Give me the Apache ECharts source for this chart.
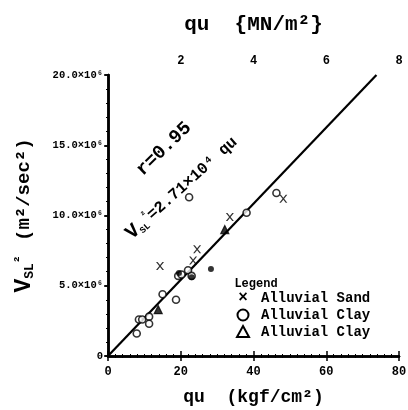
<!DOCTYPE html>
<html><head><meta charset="utf-8">
<script src="https://cdn.jsdelivr.net/npm/echarts@6/dist/echarts.min.js"></script>
<style>html,body{margin:0;padding:0;background:#fff}#c{width:408px;height:410px}</style>
</head><body><div id="c"></div>
<script>
// qu (kgf/cm2), Vsl^2 in 10^6 m2/s2
const sandPts = [[14.3,6.4],[23.4,6.8],[24.5,7.6],[33.5,9.9],[48.2,11.2]];
const clayCirclePts = [[7.9,1.6],[8.5,2.6],[9.4,2.6],[11.3,2.8],[11.3,2.3],[15,4.4],[18.7,4.0],[19.3,5.7],[20.2,5.8],[22,6.1],[23,5.7],[22.3,11.3],[38.1,10.2],[46.3,11.6]];
const clayTrianglePts = [[13.8,3.3],[32.1,9.0]];
const filledPts = [[19.5,5.9],[23,5.6],[28.3,6.2]];
const fitCoef = 0.271; // 2.71x10^5 per kgf/cm2, in 10^6 units
const fitRange = [0, 73.8];
const xTicks = [0,20,40,60,80];
const topTicks = [0,2,4,6,8];
const yTicks = [0,5,10,15,20];

const fitLine = fitRange.map(x => [x, fitCoef*x]);
const FONT = 'Liberation Mono';
const crossPath = 'path://M0,0L2,0L5,3L8,0L10,0L6,4L10,8L8,8L5,5L2,8L0,8L4,4Z';

const chart = echarts.init(document.getElementById('c'));
chart.setOption({
  animation:false,
  backgroundColor:'#fff',
  textStyle:{fontFamily:FONT,fontWeight:'bold',color:'#000'},
  grid:{left:108,right:9,top:75,bottom:54,containLabel:false,outerBoundsMode:'none'},
  xAxis:[{
    type:'value',min:0,max:80,interval:20,position:'bottom',
    name:'qu  (kgf/cm²)',nameLocation:'middle',nameGap:32,
    nameTextStyle:{fontSize:18,fontWeight:'bold',fontFamily:FONT,color:'#000'},
    axisLine:{lineStyle:{color:'#000',width:2.5}},
    axisTick:{inside:true,length:5,lineStyle:{color:'#000',width:1.5}},
    minorTick:{show:true,splitNumber:10,length:2,lineStyle:{color:'#000'}},
    splitLine:{show:false},
    axisLabel:{fontSize:12,fontWeight:'bold',color:'#000',margin:10,fontFamily:FONT}
  },{
    type:'value',min:0,max:8,interval:2,position:'top',
    name:'qu  {MN/m²}',nameLocation:'middle',nameGap:40,
    nameTextStyle:{fontSize:21,fontWeight:'bold',fontFamily:FONT,color:'#000'},
    axisLine:{lineStyle:{color:'#000',width:2.5}},
    axisTick:{inside:true,length:5,lineStyle:{color:'#000',width:1.5}},
    minorTick:{show:true,splitNumber:10,length:2,lineStyle:{color:'#000'}},
    splitLine:{show:false},
    axisLabel:{fontSize:12,fontWeight:'bold',color:'#000',margin:8,fontFamily:FONT,
      formatter:v=>v===0?'':String(v)}
  }],
  yAxis:[{
    type:'value',min:0,max:20,interval:5,position:'left',
    name:'{v|V}{s|SL}{p|²}  {u|(m²/sec²)}',nameLocation:'middle',nameGap:72,
    nameTextStyle:{rich:{
      v:{fontSize:23,fontWeight:'bold',fontFamily:FONT,color:'#000'},
      s:{fontSize:13,fontWeight:'bold',fontFamily:FONT,color:'#000',verticalAlign:'bottom',padding:[10,0,0,0]},
      p:{fontSize:13,fontWeight:'bold',fontFamily:FONT,color:'#000',verticalAlign:'top'},
      u:{fontSize:19,fontWeight:'bold',fontFamily:FONT,color:'#000'}
    }},
    axisLine:{lineStyle:{color:'#000',width:2.5}},
    axisTick:{inside:false,length:3,lineStyle:{color:'#000',width:1.5}},
    minorTick:{show:true,splitNumber:5,length:2,lineStyle:{color:'#000'}},
    splitLine:{show:false},
    axisLabel:{fontSize:10.5,fontWeight:'bold',color:'#000',margin:5,fontFamily:FONT,
      formatter:v=>v===0?'0':v.toFixed(1)+'×10⁶'}
  },{
    type:'value',min:0,max:20,interval:5,position:'right',
    axisLine:{show:true,lineStyle:{color:'#000',width:2.5}},
    axisTick:{show:true,inside:true,length:4,lineStyle:{color:'#000',width:1.5}},
    minorTick:{show:true,splitNumber:5,length:2,lineStyle:{color:'#000'}},
    splitLine:{show:false},
    axisLabel:{show:false}
  }],
  series:[
    {type:'line',data:fitLine,symbol:'none',lineStyle:{color:'#000',width:2.2},z:1},
    {name:'Alluvial Sand',type:'scatter',data:sandPts,symbol:crossPath,symbolSize:8,
      itemStyle:{color:'#000'},z:3},
    {name:'Alluvial Clay',type:'scatter',data:clayCirclePts,symbol:'circle',symbolSize:7,
      itemStyle:{color:'#fff',borderColor:'#000',borderWidth:1.6},z:3},
    {name:'Alluvial Clay ',type:'scatter',data:clayTrianglePts,symbol:'triangle',symbolSize:8,
      itemStyle:{color:'#000',borderColor:'#000',borderWidth:1.2},z:3},
    {type:'scatter',data:filledPts,symbol:'circle',symbolSize:6,
      itemStyle:{color:'#000'},z:3}
  ],
  graphic:[
    {type:'text',x:164,y:149,rotation:Math.PI*44/180,
      style:{text:'r=0.95',font:'bold 19px '+FONT,fill:'#000',align:'center',verticalAlign:'middle'}},
    {type:'text',x:182,y:188,rotation:Math.PI*42/180,
      style:{text:'{v|V}{s|SL}{p|²}{t|=2.71×10⁴ qu}',align:'center',verticalAlign:'middle',
        rich:{
          v:{font:'bold 20px '+FONT,fill:'#000'},
          s:{font:'bold 9px '+FONT,fill:'#000',verticalAlign:'bottom'},
          p:{font:'bold 9px '+FONT,fill:'#000',verticalAlign:'top'},
          t:{font:'bold 16px '+FONT,fill:'#000'}
        }}},
    {type:'text',x:256,y:284,style:{text:'Legend',font:'bold 12px '+FONT,fill:'#000',align:'center',verticalAlign:'middle'}},
    {type:'text',x:261,y:298,style:{text:'Alluvial Sand',font:'bold 14px '+FONT,fill:'#000',verticalAlign:'middle'}},
    {type:'text',x:261,y:315,style:{text:'Alluvial Clay',font:'bold 14px '+FONT,fill:'#000',verticalAlign:'middle'}},
    {type:'text',x:261,y:332,style:{text:'Alluvial Clay',font:'bold 14px '+FONT,fill:'#000',verticalAlign:'middle'}},
    {type:'text',x:243,y:298,style:{text:'×',font:'bold 16px '+FONT,fill:'#000',align:'center',verticalAlign:'middle'}},
    {type:'circle',shape:{cx:243,cy:315,r:5.5},style:{fill:'none',stroke:'#000',lineWidth:2}},
    {type:'polygon',shape:{points:[[243,326],[249,337],[237,337]]},style:{fill:'none',stroke:'#000',lineWidth:2}}
  ]
});
</script></body></html>
